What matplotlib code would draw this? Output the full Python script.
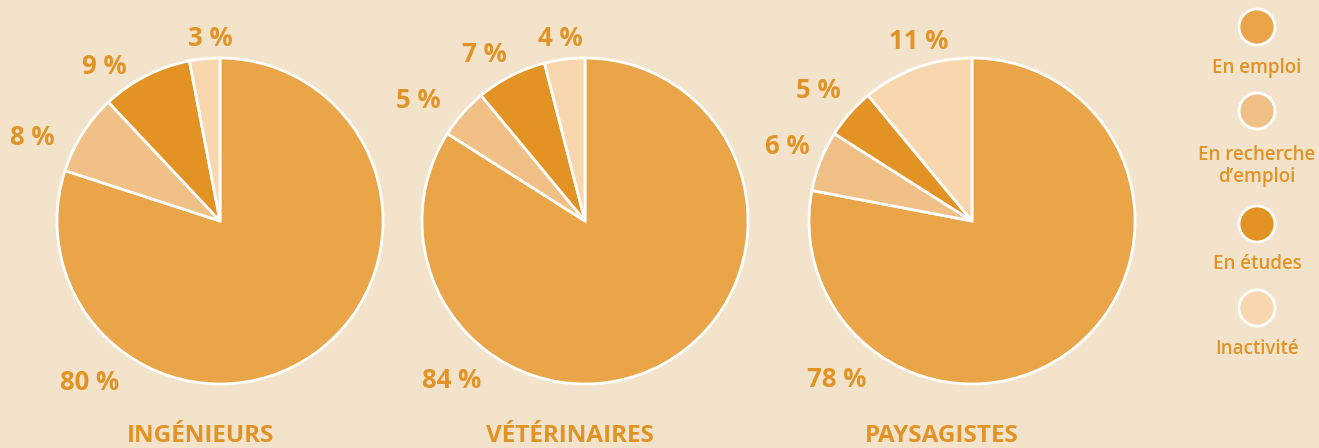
import matplotlib
matplotlib.use("Agg")
import matplotlib.pyplot as plt
from matplotlib.patches import Circle

# ---- data ----
categories = ["En emploi", "En recherche\nd\u2019emploi", "En études", "Inactivité"]
groups = ["INGÉNIEURS", "VÉTÉRINAIRES", "PAYSAGISTES"]
ingenieurs = [80, 8, 9, 3]
veterinaires = [84, 5, 7, 4]
paysagistes = [78, 6, 5, 11]
series = [ingenieurs, veterinaires, paysagistes]

# ---- style / layout ----
colors = ["#E9A548", "#F1C087", "#E29324", "#F8D7AF"]
bg = "#F4E3CB"
txt = "#E29325"
W, H = 1319, 448
centers = [(220, 227), (585, 227), (972, 227)]
radius = 163
title_x = [201, 570, 942]
# label offsets (in units of radius) relative to pie centre
label_offsets = [
    [(-0.80, -0.99), (-1.15, 0.51), (-0.71, 0.95), (-0.06, 1.12)],
    [(-0.82, -0.98), (-1.02, 0.74), (-0.62, 1.02), (-0.15, 1.12)],
    [(-0.83, -0.97), (-1.13, 0.46), (-0.94, 0.80), (-0.33, 1.10)],
]
legend_x = 1257
legend_circle_y = [27, 111, 224, 308]
legend_text_y = [68, 166, 264, 349]

plt.rcParams['font.family'] = ['Open Sans', 'DejaVu Sans']

fig = plt.figure(figsize=(W / 100, H / 100), dpi=100, facecolor=bg)
ax = fig.add_axes([0, 0, 1, 1])
ax.set_facecolor(bg)

for vals, (cx, cy), offs, name, tx in zip(series, centers, label_offsets, groups, title_x):
    ax.pie(vals, colors=colors, startangle=90, counterclock=False,
           center=(cx, cy), radius=radius,
           wedgeprops=dict(edgecolor='white', linewidth=2), frame=True)
    for v, (dx, dy) in zip(vals, offs):
        ax.text(cx + dx * radius, cy + dy * radius, f"{v} %", ha='center', va='center',
                fontsize=18.5, fontweight='bold', color=txt)
    ax.text(tx, H - 436, name, ha='center', va='center', fontsize=17.5,
            fontweight='bold', color=txt)

ax.set_xlim(0, W)
ax.set_ylim(0, H)
ax.set_aspect('equal')
ax.axis('off')

for cat, col, cyc, ty in zip(categories, colors, legend_circle_y, legend_text_y):
    ax.add_patch(Circle((legend_x, H - cyc), 18, facecolor=col, edgecolor='white',
                        linewidth=2, zorder=3))
    ax.text(legend_x, H - ty, cat, ha='center', va='center', fontsize=13.5,
            fontweight='semibold', color=txt, linespacing=1.1)

fig.savefig("out.png", dpi=100, facecolor=bg)
